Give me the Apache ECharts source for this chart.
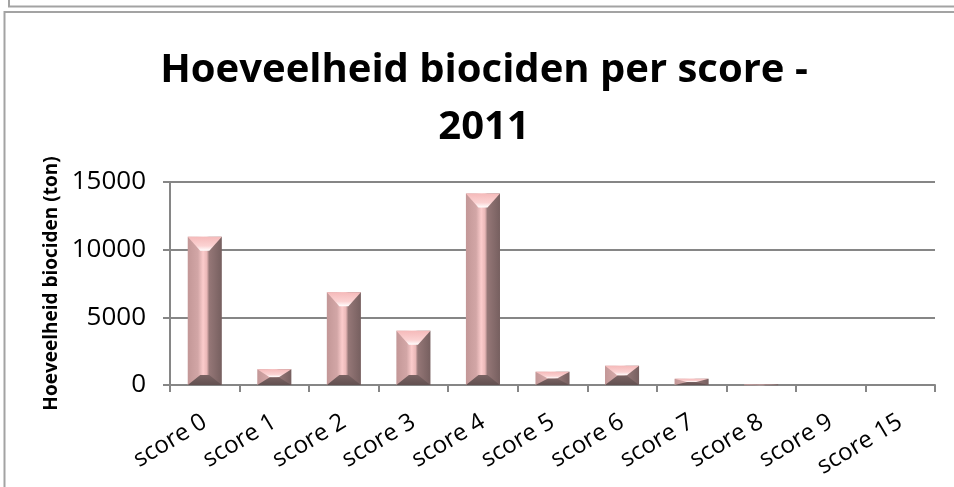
<!DOCTYPE html>
<html>
<head>
<meta charset="utf-8">
<script src="https://cdn.jsdelivr.net/npm/echarts@6/dist/echarts.min.js"></script>
<style>
  html, body { margin: 0; padding: 0; background: #fff; }
  #main { width: 954px; height: 487px; }
</style>
</head>
<body>
<div id="main"></div>
<script>
// chart data
var categories = ['score 0', 'score 1', 'score 2', 'score 3', 'score 4', 'score 5',
                  'score 6', 'score 7', 'score 8', 'score 9', 'score 15'];
var amounts = [10950, 1160, 6850, 4000, 14150, 970, 1420, 460, 60, 0, 0];
var yTicks = [0, 5000, 10000, 15000];

var chart = echarts.init(document.getElementById('main'));

function grad(x, y, x2, y2, stops) {
    return new echarts.graphic.LinearGradient(x, y, x2, y2, stops);
}

// bevelled bar, like the old excel "cool slant" column
function renderBevel(params, api) {
    var idx = api.value(0), val = api.value(1);
    if (!(val > 0)) return null;
    var top = api.coord([idx, val]);
    var base = api.coord([idx, 0]);
    var bw = api.size([1, 0])[0] * 0.49;
    var x0 = top[0] - bw / 2, x1 = top[0] + bw / 2;
    var y0 = top[1], y1 = base[1];
    var h = Math.max(y1 - y0, 1);
    var dx = Math.min(12.5, bw / 2 - 2);
    var dt = Math.min(14, h / 2), db = Math.min(10, h / 2);
    var ix0 = x0 + dx, ix1 = x1 - dx;
    return {
        type: 'group',
        children: [
            { type: 'rect', shape: { x: x0, y: y0, width: bw, height: h },
              style: { fill: grad(0, 0, 1, 0, [
                  { offset: 0, color: '#c39797' }, { offset: 0.3, color: '#d2a6a6' },
                  { offset: 0.45, color: '#fccccc' }, { offset: 0.56, color: '#eab8b8' },
                  { offset: 0.63, color: '#957777' }, { offset: 1, color: '#765f5f' }]) } },
            { type: 'polygon', shape: { points: [[x0, y0], [x1, y0], [ix1, y0 + dt], [ix0, y0 + dt]] },
              style: { fill: grad(0, 0, 0, 1, [
                  { offset: 0, color: '#f5baba' }, { offset: 0.65, color: '#fbd2d2' },
                  { offset: 1, color: '#ffffff' }]) } },
            { type: 'polygon', shape: { points: [[x0, y1], [x1, y1], [ix1, y1 - db], [ix0, y1 - db]] },
              style: { fill: grad(0, 0, 0, 1, [
                  { offset: 0, color: '#7a6363' }, { offset: 1, color: '#625050' }]) } }
        ]
    };
}

var option = {
    backgroundColor: '#ffffff',
    animation: false,
    grid: { left: 170, right: 19, top: 182, bottom: 102 },
    graphic: [
        // frame of the chart above, and this chart's frame
        { type: 'polyline', shape: { points: [[9, 0], [9, 6.5], [954, 6.5]] },
          style: { stroke: '#a3a3a3', lineWidth: 2, fill: null } },
        { type: 'polyline', shape: { points: [[954, 12], [4.5, 12], [4.5, 487]] },
          style: { stroke: '#a3a3a3', lineWidth: 2, fill: null } },
        { type: 'text', x: 484, y: 99,
          style: { text: 'Hoeveelheid biociden per score -\n2011', fill: '#000',
                   font: 'bold 40px "Open Sans"', lineHeight: 57,
                   align: 'center', verticalAlign: 'middle' } }
    ],
    xAxis: {
        type: 'category',
        data: categories,
        axisLine: { lineStyle: { color: '#868686', width: 2 } },
        axisTick: { show: true, length: 7, lineStyle: { color: '#868686', width: 2 } },
        axisLabel: { rotate: 31, fontSize: 24, fontFamily: 'Open Sans', color: '#000',
                     margin: 35, interval: 0 },
        splitLine: { show: false }
    },
    yAxis: {
        type: 'value',
        min: yTicks[0],
        max: yTicks[yTicks.length - 1],
        interval: yTicks[1] - yTicks[0],
        name: 'Hoeveelheid biociden (ton)',
        nameLocation: 'middle',
        nameGap: 106,
        nameTextStyle: { fontSize: 19, fontWeight: 'bold', fontFamily: 'Open Sans', color: '#000' },
        axisLine: { show: true, lineStyle: { color: '#868686', width: 2 } },
        axisTick: { show: true, length: 7, lineStyle: { color: '#868686', width: 2 } },
        axisLabel: { fontSize: 26, fontFamily: 'Open Sans', color: '#000', margin: 24,
                     formatter: function (v) { return String(v); } },
        splitLine: { show: true, lineStyle: { color: '#868686', width: 2 } }
    },
    series: [{
        type: 'custom',
        renderItem: renderBevel,
        encode: { x: 0, y: 1 },
        data: amounts.map(function (v, i) { return [i, v]; })
    }]
};

chart.setOption(option);
</script>
</body>
</html>
